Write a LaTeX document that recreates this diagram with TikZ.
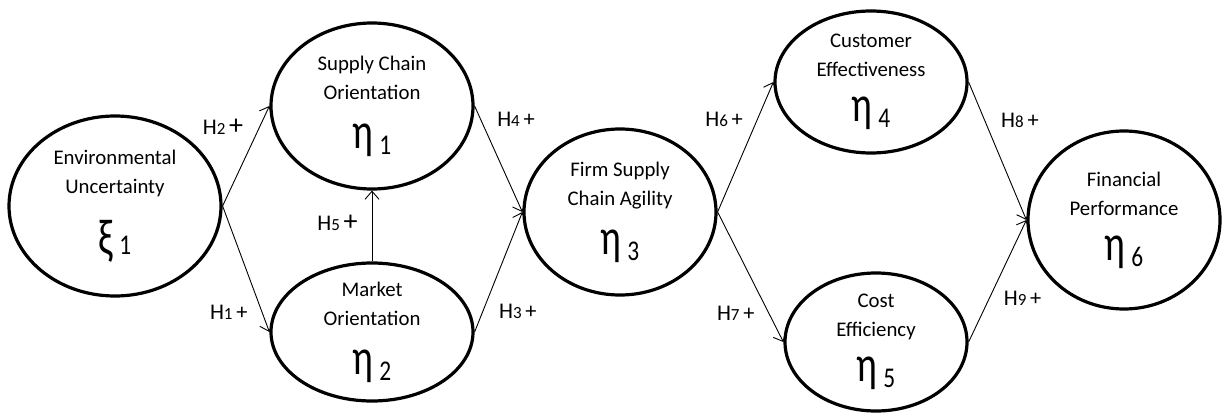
\documentclass[tikz,border=0pt]{standalone}
\usepackage{fontspec}
\setmainfont{Carlito}
\usetikzlibrary{arrows.meta,shapes.geometric}

% latent variable symbol with its index
\newcommand{\lat}[3][-3pt]{\scalebox{0.88}[1.15]{\fontsize{22}{24}\selectfont #2}\hspace{3pt}\raisebox{#1}{\scalebox{0.9}[1.1]{\fontsize{13}{14}\selectfont #3}}}
% hypothesis labels
\newcommand{\hyp}[1]{H{\fontsize{8.5}{10}\selectfont #1}\,+}
\newcommand{\hypb}[1]{H{\fontsize{8.5}{10}\selectfont #1}\,{\fontsize{14}{16}\selectfont +}}

\begin{document}
\begin{tikzpicture}[x=0.5pt,y=-0.5pt,->,>={Straight Barb[length=4pt,width=7pt]},line width=0.45pt,
    latent/.style={ellipse,draw,line width=1.6pt,inner sep=-6pt,align=center,
      font=\fontsize{10.4}{14.5}\selectfont},
    lbl/.style={font=\fontsize{11.2}{14}\selectfont,inner sep=1pt}]
  \useasboundingbox (0,0) rectangle (1225,417);
  \node[latent,minimum width=106pt,minimum height=90pt] (eu) at (115,206)
    {Environmental\\Uncertainty\\[11pt]\lat[0pt]{ξ}{1}};
  \node[latent,minimum width=101pt,minimum height=83pt] (sco) at (372,106)
    {Supply Chain\\Orientation\\[10pt]\lat{η}{1}};
  \node[latent,minimum width=101pt,minimum height=69pt] (mo) at (372,332)
    {Market\\Orientation\\[10pt]\lat{η}{2}};
  \node[latent,minimum width=96pt,minimum height=83pt] (fsca) at (620,212)
    {Firm Supply\\Chain Agility\\[10pt]\lat{η}{3}};
  \node[latent,minimum width=96pt,minimum height=71pt] (ce) at (871,82)
    {Customer\\Effectiveness\\[8pt]\lat{η}{4}};
  \node[latent,minimum width=91pt,minimum height=69pt] (cf) at (876,342)
    {Cost\\Efficiency\\[8pt]\lat{η}{5}};
  \node[latent,minimum width=96pt,minimum height=89pt] (fp) at (1124,220)
    {Financial\\Performance\\[8pt]\lat{η}{6}};
  \path (eu.east) edge node[lbl,pos=.79,left=7pt] {\hypb{2}} (sco.west)
        (eu.east) edge node[lbl,pos=.84,left=6pt] {\hyp{1}} (mo.west)
        (mo.north) edge node[lbl,pos=.54,left=6pt] {\hypb{5}} (sco.south)
        (sco.east) edge node[lbl,pos=.13,right=7pt] {\hyp{4}} (fsca.west)
        (mo.east) edge node[lbl,pos=.17,right=7pt] {\hyp{3}} (fsca.west)
        (fsca.east) edge node[lbl,pos=.71,left=6pt] {\hyp{6}} (ce.west)
        (fsca.east) edge node[lbl,pos=.78,left=6pt] {\hyp{7}} (cf.west)
        (ce.east) edge node[lbl,pos=.28,right=7pt] {\hyp{8}} (fp.west)
        (cf.east) edge node[lbl,pos=.36,right=6pt] {\hyp{9}} (fp.west);
\end{tikzpicture}
\end{document}
